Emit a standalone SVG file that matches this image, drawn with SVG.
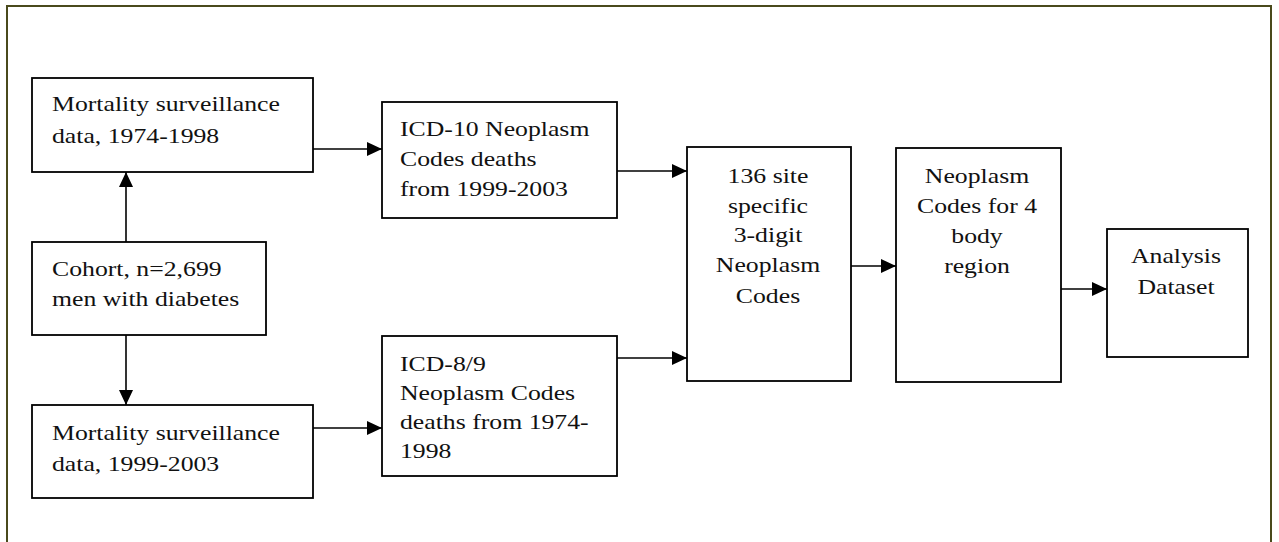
<svg xmlns="http://www.w3.org/2000/svg" width="1279" height="542" viewBox="0 0 1279 542">
<defs>
<style>
.box{fill:#fff;stroke:#000;stroke-width:1.8}
.t{font-family:"Liberation Serif","Times New Roman",serif;font-size:22px;fill:#111}
.c{text-anchor:middle}
.edge{stroke:#000;stroke-width:1.6;fill:none;marker-end:url(#ah)}
</style>
<marker id="ah" markerUnits="userSpaceOnUse" markerWidth="15" markerHeight="14" refX="15" refY="7" orient="auto">
<path d="M0,0 L15,7 L0,14 z" fill="#000"/>
</marker>
</defs>
<rect x="0" y="0" width="1279" height="542" fill="#fff"/>
<rect x="7" y="6" width="1264" height="560" fill="none" stroke="#4a4a1c" stroke-width="2"/>

<g id="connectors">
<path class="edge" d="M126,242 V172"/>
<path class="edge" d="M126,335 V405"/>
<path class="edge" d="M313,149 H382"/>
<path class="edge" d="M313,428 H382"/>
<path class="edge" d="M617,171 H687"/>
<path class="edge" d="M617,358 H687"/>
<path class="edge" d="M851,266 H896"/>
<path class="edge" d="M1061,289 H1107"/>
</g>

<g id="mort1974">
<rect class="box" x="32" y="78" width="281" height="94"/>
<text class="t" transform="translate(52 0) scale(1.17 1)" y="111">Mortality surveillance</text>
<text class="t" transform="translate(52 0) scale(1.17 1)" y="143">data, 1974-1998</text>
</g>

<g id="cohort">
<rect class="box" x="32" y="242" width="234" height="93"/>
<text class="t" transform="translate(52 0) scale(1.17 1)" y="276">Cohort, n=2,699</text>
<text class="t" transform="translate(52 0) scale(1.17 1)" y="306">men with diabetes</text>
</g>

<g id="mort1999">
<rect class="box" x="32" y="405" width="281" height="93"/>
<text class="t" transform="translate(52 0) scale(1.17 1)" y="440">Mortality surveillance</text>
<text class="t" transform="translate(52 0) scale(1.17 1)" y="471">data, 1999-2003</text>
</g>

<g id="icd10">
<rect class="box" x="382" y="102" width="235" height="116"/>
<text class="t" transform="translate(400 0) scale(1.17 1)" y="136">ICD-10 Neoplasm</text>
<text class="t" transform="translate(400 0) scale(1.17 1)" y="166">Codes deaths</text>
<text class="t" transform="translate(400 0) scale(1.17 1)" y="196">from 1999-2003</text>
</g>

<g id="icd89">
<rect class="box" x="382" y="336" width="235" height="140"/>
<text class="t" transform="translate(400 0) scale(1.17 1)" y="371">ICD-8/9</text>
<text class="t" transform="translate(400 0) scale(1.17 1)" y="400">Neoplasm Codes</text>
<text class="t" transform="translate(400 0) scale(1.17 1)" y="429">deaths from 1974-</text>
<text class="t" transform="translate(400 0) scale(1.17 1)" y="458">1998</text>
</g>

<g id="site136">
<rect class="box" x="687" y="147" width="164" height="234"/>
<text class="t c" transform="translate(768 0) scale(1.17 1)" y="183">136 site</text>
<text class="t c" transform="translate(768 0) scale(1.17 1)" y="213">specific</text>
<text class="t c" transform="translate(768 0) scale(1.17 1)" y="242">3-digit</text>
<text class="t c" transform="translate(768 0) scale(1.17 1)" y="272">Neoplasm</text>
<text class="t c" transform="translate(768 0) scale(1.17 1)" y="303">Codes</text>
</g>

<g id="region4">
<rect class="box" x="896" y="148" width="165" height="234"/>
<text class="t c" transform="translate(977 0) scale(1.17 1)" y="183">Neoplasm</text>
<text class="t c" transform="translate(977 0) scale(1.17 1)" y="213">Codes for 4</text>
<text class="t c" transform="translate(977 0) scale(1.17 1)" y="243">body</text>
<text class="t c" transform="translate(977 0) scale(1.17 1)" y="273">region</text>
</g>

<g id="analysis">
<rect class="box" x="1107" y="229" width="141" height="128"/>
<text class="t c" transform="translate(1176 0) scale(1.17 1)" y="263">Analysis</text>
<text class="t c" transform="translate(1176 0) scale(1.17 1)" y="294">Dataset</text>
</g>
</svg>
